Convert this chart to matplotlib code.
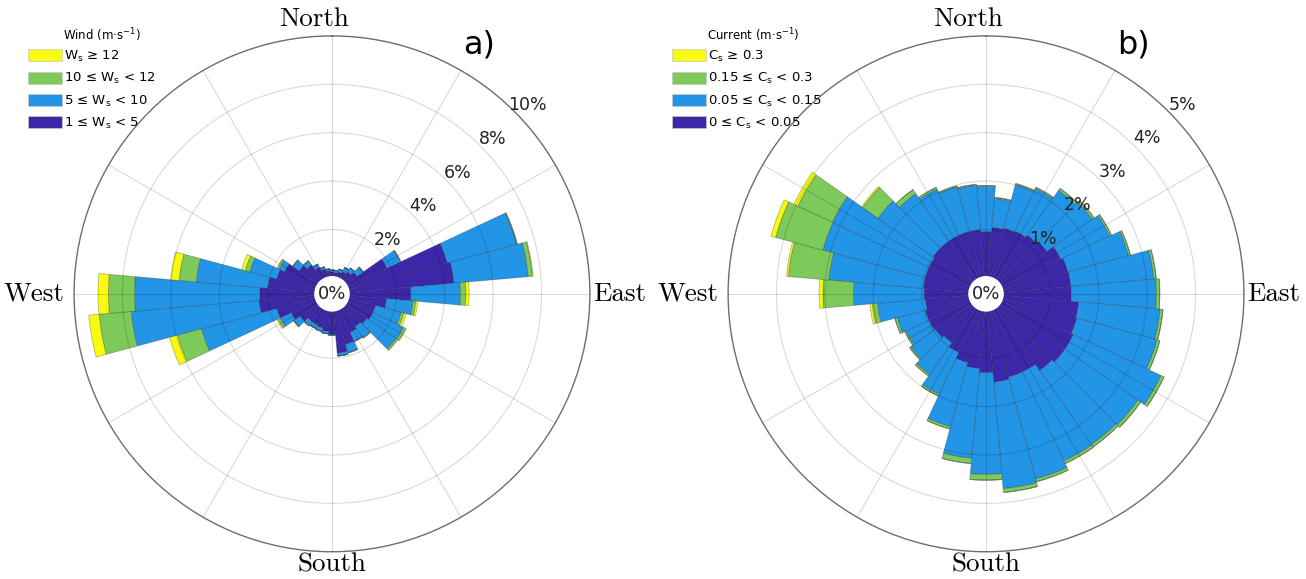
import numpy as np
import matplotlib
matplotlib.use("Agg")
import matplotlib.pyplot as plt
from matplotlib.patches import Patch

# direction bins (degrees, clockwise from North), 10 deg wide
directions = np.arange(0, 360, 10)

# wind frequency (%) per speed class, one value per direction bin
wind_1_5 = [0.25, 0.22, 0.28, 0.35, 0.45, 0.60, 1.85, 4.27, 4.40, 2.60, 1.60, 1.20,
            1.20, 1.10, 1.00, 1.10, 1.50, 1.80, 1.00, 0.90, 0.80, 0.75, 0.75, 0.95,
            1.20, 1.70, 2.37, 2.32, 2.00, 1.70, 1.50, 1.00, 0.80, 0.55, 0.40, 0.30]
wind_5_10 = [0.08, 0.10, 0.12, 0.20, 0.20, 0.30, 0.60, 2.97, 3.08, 2.05, 1.10, 1.10,
             1.40, 1.45, 0.55, 0.40, 0.35, 0.12, 0.05, 0.10, 0.15, 0.17, 0.20, 0.30,
             0.50, 3.22, 5.30, 5.18, 2.97, 1.15, 0.25, 0.30, 0.20, 0.15, 0.10, 0.08]
wind_10_12 = [0.00, 0.00, 0.00, 0.00, 0.00, 0.02, 0.03, 0.03, 0.18, 0.22, 0.12, 0.12,
              0.10, 0.08, 0.03, 0.02, 0.02, 0.00, 0.00, 0.00, 0.00, 0.00, 0.02, 0.03,
              0.10, 1.03, 1.33, 1.08, 0.71, 0.20, 0.07, 0.03, 0.02, 0.00, 0.00, 0.00]
wind_12 = [0.00, 0.00, 0.00, 0.00, 0.00, 0.00, 0.00, 0.00, 0.02, 0.14, 0.08, 0.10,
           0.03, 0.02, 0.00, 0.00, 0.00, 0.00, 0.00, 0.00, 0.00, 0.00, 0.00, 0.00,
           0.05, 0.34, 0.43, 0.43, 0.35, 0.15, 0.03, 0.00, 0.00, 0.00, 0.00, 0.00]

# current frequency (%) per speed class
cur_0_005 = [0.96, 1.05, 1.08, 1.10, 1.15, 1.20, 1.37, 1.42, 1.43, 1.43, 1.59, 1.61,
             1.66, 1.66, 1.60, 1.45, 1.45, 1.50, 1.30, 1.22, 1.14, 1.00, 0.90, 0.95,
             0.97, 0.97, 0.93, 0.95, 0.97, 0.97, 0.97, 1.00, 1.00, 1.00, 1.00, 1.00]
cur_005_015 = [0.93, 0.60, 0.92, 0.97, 1.13, 1.15, 1.12, 1.30, 1.72, 1.76, 1.69, 1.72,
               2.00, 1.84, 1.87, 2.03, 2.18, 2.21, 2.10, 1.86, 1.37, 0.96, 0.80, 0.62,
               0.52, 0.60, 0.99, 1.46, 1.96, 2.19, 2.20, 1.39, 1.20, 1.06, 0.96, 0.92]
cur_015_03 = [0.02, 0.02, 0.03, 0.03, 0.05, 0.05, 0.04, 0.04, 0.05, 0.07, 0.06, 0.06,
              0.07, 0.07, 0.06, 0.06, 0.06, 0.08, 0.12, 0.11, 0.05, 0.04, 0.04, 0.03,
              0.03, 0.05, 0.11, 0.63, 0.84, 1.01, 0.79, 0.39, 0.10, 0.04, 0.02, 0.02]
cur_03 = [0.00, 0.00, 0.00, 0.00, 0.00, 0.00, 0.00, 0.00, 0.00, 0.00, 0.00, 0.00,
          0.00, 0.00, 0.00, 0.00, 0.00, 0.00, 0.00, 0.00, 0.00, 0.00, 0.00, 0.00,
          0.00, 0.00, 0.05, 0.08, 0.04, 0.10, 0.09, 0.03, 0.00, 0.00, 0.00, 0.00]

wind_labels = ["1 ≤ W$_\\mathrm{s}$ < 5", "5 ≤ W$_\\mathrm{s}$ < 10",
               "10 ≤ W$_\\mathrm{s}$ < 12", "W$_\\mathrm{s}$ ≥ 12"]
cur_labels = ["0 ≤ C$_\\mathrm{s}$ < 0.05", "0.05 ≤ C$_\\mathrm{s}$ < 0.15",
              "0.15 ≤ C$_\\mathrm{s}$ < 0.3", "C$_\\mathrm{s}$ ≥ 0.3"]
wind_rticks = [2, 4, 6, 8, 10]
cur_rticks = [1, 2, 3, 4, 5]

colors = ["#3B27A8", "#2395E7", "#7DCA5A", "#F8FA10"]
serif = "cmr10"


def rose(ax, layers, rticks, rorigin, lab_off, legend_labels, legend_title, letter, leg_x):
    theta = np.deg2rad(directions)
    width = np.deg2rad(10)
    bottom = np.zeros(len(directions))
    handles = []
    for vals, col, lab in zip(layers, colors, legend_labels):
        vals = np.array(vals)
        ax.bar(theta, vals, width=width, bottom=bottom, color=col,
               edgecolor=(0.1, 0.1, 0.15, 0.3), linewidth=0.6, zorder=1)
        bottom = bottom + vals
        handles.append(Patch(facecolor=col, edgecolor="#c8c8c8", linewidth=0.5, label=lab))

    ax.set_theta_zero_location("N")
    ax.set_theta_direction(-1)
    ax.set_ylim(0, rticks[-1])
    ax.set_rorigin(-rorigin)
    ax.set_xticks(np.deg2rad(np.arange(0, 360, 30)))
    ax.set_xticklabels([])
    ax.set_yticks(rticks)
    ax.set_yticklabels([])
    ax.set_axisbelow(False)
    ax.grid(True, color="k", alpha=0.15, linewidth=0.8)
    ax.spines["polar"].set_color("#777777")
    ax.spines["polar"].set_linewidth(1.0)
    ax.tick_params(length=0)

    for t in rticks:
        ax.text(np.deg2rad(46), t + lab_off, f"{t}%", fontsize=12.5, color="#222222",
                ha="center", va="center")
    ax.text(0, -rorigin, "0%", fontsize=13, ha="center", va="center", color="#222222",
            bbox=dict(boxstyle="circle,pad=0.2", fc="white", ec="none"), zorder=5)

    ax.text(0.465, 1.033, "North", transform=ax.transAxes, ha="center", va="center",
            fontsize=19.5, family=serif)
    ax.text(0.5, -0.025, "South", transform=ax.transAxes, ha="center", va="center",
            fontsize=19.5, family=serif)
    ax.text(-0.077, 0.5, "West", transform=ax.transAxes, ha="center", va="center",
            fontsize=19.5, family=serif)
    ax.text(1.057, 0.5, "East", transform=ax.transAxes, ha="center", va="center",
            fontsize=19.5, family=serif)
    ax.text(0.785, 0.982, letter, transform=ax.transAxes, ha="center", va="center",
            fontsize=23)

    ax.legend(handles=handles[::-1], loc="upper left",
              bbox_to_anchor=(leg_x, 0.975), frameon=False, fontsize=9.5,
              handlelength=2.6, handleheight=1.05,
              handletextpad=0.15, labelspacing=0.55, borderaxespad=0, borderpad=0)
    ax.text(leg_x + 0.069, 1.002, legend_title, transform=ax.transAxes,
            ha="left", va="center", fontsize=8.5)


fig = plt.figure(figsize=(13.06, 5.79), dpi=100)
ax1 = fig.add_axes([0.0567, 0.047, 0.395, 0.891], projection="polar")
ax2 = fig.add_axes([0.5575, 0.047, 0.395, 0.891], projection="polar")

rose(ax1, [wind_1_5, wind_5_10, wind_10_12, wind_12], wind_rticks, 0.66, 0.55,
     wind_labels, "Wind (m·s$^{-1}$)", "a)", -0.09)
rose(ax2, [cur_0_005, cur_005_015, cur_015_03, cur_03], cur_rticks, 0.33, 0.3,
     cur_labels, "Current (m·s$^{-1}$)", "b)", -0.109)

fig.savefig("out.png", dpi=100)
